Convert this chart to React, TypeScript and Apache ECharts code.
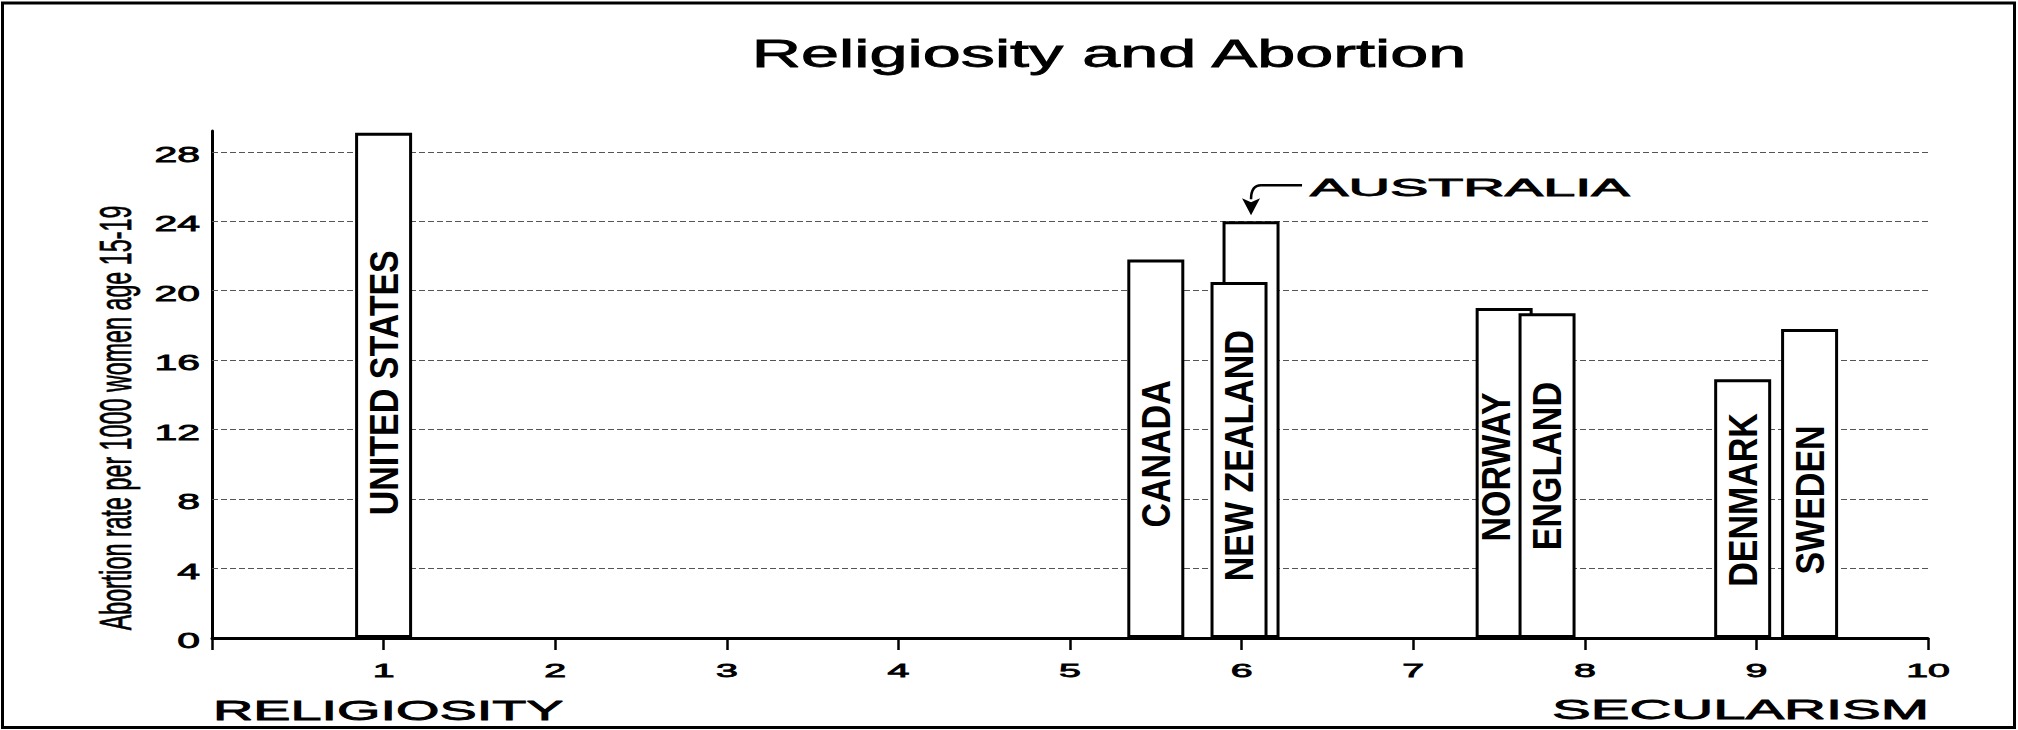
import React, { useEffect, useRef } from 'react';
import * as echarts from 'echarts';

// ---- data ----
const countries = ['UNITED STATES', 'CANADA', 'AUSTRALIA', 'NEW ZEALAND', 'NORWAY', 'ENGLAND', 'DENMARK', 'SWEDEN'];
const secularism = [1.0, 5.5, 6.055, 5.985, 7.53, 7.78, 8.92, 9.31];
const abortionRate = [29.1, 21.8, 24.0, 20.5, 19.0, 18.7, 14.9, 17.8];
const yTicks = [0, 4, 8, 12, 16, 20, 24, 28];
const xTicks = [1, 2, 3, 4, 5, 6, 7, 8, 9, 10];
const titleText = 'Religiosity and Abortion';
const yAxisName = 'Abortion rate per 1000 women age 15-19';
const leftName = 'RELIGIOSITY';
const rightName = 'SECULARISM';
const calloutCountry = 'AUSTRALIA';

// ---- layout (label placement inside bars, in axis units / px) ----
const labelMid = [14.7, 10.6, 0, 10.5, 9.85, 9.9, 7.95, 7.95];
const labelShift = [0, 0, 0, 0, -8, 0, 0, 0];

const FONT = '"Liberation Sans", Arial, Helvetica, sans-serif';
const HEAVY = { stroke: '#000', lineWidth: 0.8 };

export default function App() {
  const ref = useRef<HTMLDivElement>(null);

  useEffect(() => {
    if (!ref.current) return;
    const chart = echarts.init(ref.current, null, { renderer: 'svg' });

    const calloutIdx = countries.indexOf(calloutCountry);
    const insideData = countries
      .map((_, i) => [secularism[i], labelMid[i], i])
      .filter((d) => d[2] !== calloutIdx);

    const option: any = {
      animation: false,
      backgroundColor: '#ffffff',
      grid: { left: 212, right: 90, top: 131, bottom: 92 },
      xAxis: {
        type: 'value',
        min: 0,
        max: 10,
        interval: 1,
        axisLine: { show: true, lineStyle: { color: '#000', width: 3 } },
        axisTick: { show: true, length: 12, lineStyle: { color: '#000', width: 2.5 } },
        axisLabel: { show: false },
        splitLine: { show: false },
      },
      yAxis: {
        type: 'value',
        min: 0,
        max: 29.2,
        interval: 4,
        axisLine: { show: true, lineStyle: { color: '#000', width: 3 } },
        axisTick: { show: false },
        axisLabel: { show: false },
        splitLine: { show: false },
      },
      graphic: [
        {
          type: 'rect',
          shape: { x: 2.5, y: 3, width: 2012, height: 724.5 },
          style: { fill: 'transparent', stroke: '#000', lineWidth: 3 },
          silent: true,
        },
        {
          type: 'text',
          x: 1109,
          y: 54,
          scaleX: 1.8,
          style: { text: titleText, fontSize: 38, fontFamily: FONT, fill: '#000', align: 'center', verticalAlign: 'middle', ...HEAVY },
        },
        {
          type: 'text',
          x: 115,
          y: 418,
          rotation: Math.PI / 2,
          scaleY: 1.9,
          style: { text: yAxisName, fontSize: 23.3, fontFamily: FONT, fill: '#000', align: 'center', verticalAlign: 'middle', stroke: '#000', lineWidth: 0.4 },
        },
        {
          type: 'text',
          x: 213,
          y: 710,
          scaleX: 2.03,
          style: { text: leftName, fontSize: 27.5, fontFamily: FONT, fill: '#000', align: 'left', verticalAlign: 'middle', ...HEAVY },
        },
        {
          type: 'text',
          x: 1552,
          y: 710,
          scaleX: 2.11,
          style: { text: rightName, fontSize: 27.5, fontFamily: FONT, fill: '#000', align: 'left', verticalAlign: 'middle', ...HEAVY },
        },
      ],
      series: [
        {
          type: 'bar',
          name: 'Abortion rate',
          data: secularism.map((x, i) => [x, abortionRate[i]]),
          barWidth: 57,
          z: 2,
          itemStyle: { color: '#ffffff', borderColor: '#000', borderWidth: 3 },
          emphasis: { disabled: true },
          markLine: {
            silent: true,
            z: 1,
            symbol: ['none', 'none'],
            label: { show: false },
            lineStyle: { color: '#555', type: [6, 3], width: 1.2 },
            data: yTicks.filter((v) => v > 0).map((v) => ({ yAxis: v })),
          },
        },
        {
          type: 'custom',
          name: 'bar labels',
          z: 4,
          silent: true,
          data: insideData,
          renderItem: (params: any, api: any) => {
            const i = api.value(2);
            const p = api.coord([api.value(0), api.value(1)]);
            return {
              type: 'text',
              x: p[0] + labelShift[i],
              y: p[1],
              rotation: Math.PI / 2,
              scaleY: 1.2,
              style: {
                text: countries[i],
                fontSize: 34,
                fontWeight: 'bold',
                fontFamily: FONT,
                fill: '#000',
                align: 'center',
                verticalAlign: 'middle',
              },
            };
          },
        },
        {
          type: 'custom',
          name: 'callout',
          z: 4,
          silent: true,
          data: [[secularism[calloutIdx], abortionRate[calloutIdx]]],
          renderItem: (params: any, api: any) => {
            const p = api.coord([api.value(0), api.value(1)]);
            const ax = p[0];
            const ay = p[1];
            return {
              type: 'group',
              children: [
                {
                  type: 'line',
                  shape: { x1: ax + 51, y1: ay - 36, x2: ax + 10, y2: ay - 36 },
                  style: { stroke: '#000', lineWidth: 2.5 },
                },
                {
                  type: 'bezierCurve',
                  shape: { x1: ax + 10, y1: ay - 36, x2: ax, y2: ay - 22, cpx1: ax, cpy1: ay - 36 },
                  style: { stroke: '#000', lineWidth: 2.5, fill: 'none' },
                },
                {
                  type: 'polygon',
                  shape: { points: [[ax - 9, ay - 23], [ax, ay - 19], [ax + 9, ay - 23], [ax, ay - 6]] },
                  style: { fill: '#000' },
                },
                {
                  type: 'text',
                  x: ax + 59,
                  y: ay - 33,
                  scaleX: 2.5,
                  style: {
                    text: calloutCountry,
                    fontSize: 23,
                    fontFamily: FONT,
                    fill: '#000',
                    align: 'left',
                    verticalAlign: 'middle',
                    ...HEAVY,
                  },
                },
              ],
            };
          },
        },
        {
          type: 'custom',
          name: 'x tick labels',
          z: 4,
          silent: true,
          data: xTicks.map((v) => [v, 0]),
          renderItem: (params: any, api: any) => {
            const v = api.value(0);
            const p = api.coord([v, 0]);
            return {
              type: 'text',
              x: p[0],
              y: p[1] + 33,
              scaleX: 2.07,
              style: { text: String(v), fontSize: 19, fontFamily: FONT, fill: '#000', align: 'center', verticalAlign: 'middle', ...HEAVY },
            };
          },
        },
        {
          type: 'custom',
          name: 'y tick labels',
          z: 4,
          silent: true,
          data: yTicks.map((v) => [0, v]),
          renderItem: (params: any, api: any) => {
            const v = api.value(1);
            const p = api.coord([0, v]);
            return {
              type: 'text',
              x: p[0] - 12,
              y: p[1] + 2.5,
              scaleX: 1.86,
              style: { text: String(v), fontSize: 22, fontFamily: FONT, fill: '#000', align: 'right', verticalAlign: 'middle', ...HEAVY },
            };
          },
        },
      ],
    };

    chart.setOption(option);
    return () => {
      chart.dispose();
    };
  }, []);

  return (
    <div
      ref={ref}
      style={{ position: 'absolute', left: 0, top: 0, width: 2018, height: 730 }}
    />
  );
}
